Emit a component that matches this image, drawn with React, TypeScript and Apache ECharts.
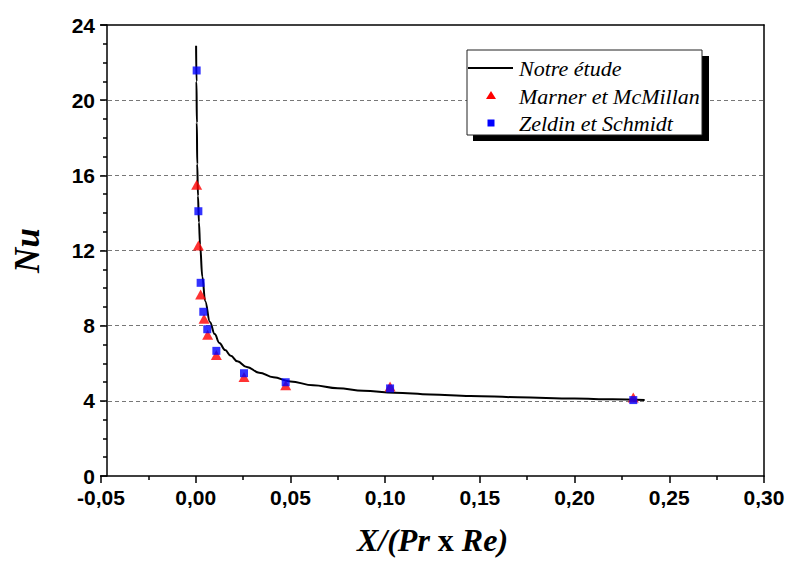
import React, { useEffect, useRef } from "react";
import * as echarts from "echarts";

// "Notre étude" curve
const curveX = [0.0002, 0.0004, 0.0006, 0.0008, 0.0012, 0.0017, 0.0023, 0.0035, 0.005, 0.0075, 0.010, 0.0125, 0.0155, 0.0185, 0.022, 0.027, 0.0335, 0.041, 0.05, 0.062, 0.075, 0.0885, 0.105, 0.124, 0.145, 0.17, 0.2, 0.22, 0.237];
const curveNu = [22.9, 21.0, 18.8, 16.6, 14.9, 13.5, 12.3, 10.6, 9.3, 8.2, 7.55, 7.08, 6.7, 6.4, 6.1, 5.8, 5.5, 5.25, 5.03, 4.83, 4.67, 4.54, 4.43, 4.34, 4.26, 4.19, 4.12, 4.08, 4.05];

// Marner et McMillan (red triangles)
const marnerX = [0.0005, 0.0014, 0.0026, 0.0044, 0.0063, 0.0109, 0.0255, 0.0475, 0.1026, 0.231];
const marnerNu = [15.5, 12.27, 9.66, 8.37, 7.52, 6.44, 5.27, 4.83, 4.76, 4.18];

// Zeldin et Schmidt (blue squares)
const zeldinX = [0.0005, 0.0014, 0.0026, 0.004, 0.0061, 0.0109, 0.0255, 0.0475, 0.1026, 0.231];
const zeldinNu = [21.58, 14.09, 10.28, 8.74, 7.81, 6.66, 5.47, 4.99, 4.66, 4.04];

const xTicks = { min: -0.05, max: 0.3, interval: 0.05 };
const yTicks = { min: 0, max: 24, interval: 4 };

const legendNames = ["Notre étude", "Marner et McMillan", "Zeldin et Schmidt"];

const zip = (xs: number[], ys: number[]) => xs.map((x, i) => [x, ys[i]]);

export default function App() {
  const ref = useRef<HTMLDivElement>(null);
  useEffect(() => {
    if (!ref.current) return;
    const chart = echarts.init(ref.current, undefined, { renderer: "svg" });
    const tickFont = { fontFamily: "'Liberation Sans', Arial, sans-serif", fontWeight: "bold" as const, fontSize: 21, color: "#000" };
    const serif = "'Liberation Serif', 'Times New Roman', serif";
    const serifLegend = "italic 22px 'Liberation Serif', 'Times New Roman', serif";
    chart.setOption({
      animation: false,
      backgroundColor: "#fff",
      grid: { left: 101, right: 26, top: 25, bottom: 84, containLabel: false },
      xAxis: [
        {
          type: "value",
          position: "bottom",
          min: xTicks.min,
          max: xTicks.max,
          interval: xTicks.interval,
          axisLine: { show: true, onZero: false, lineStyle: { color: "#000", width: 1.5 } },
          axisTick: { show: true, inside: false, length: 7, lineStyle: { color: "#000", width: 1.5 } },
          minorTick: { show: true, splitNumber: 2, length: 4, lineStyle: { color: "#000", width: 1.5 } },
          axisLabel: {
            ...tickFont,
            margin: 11,
            formatter: (v: number) => (Math.abs(v) < 1e-9 ? 0 : v).toFixed(2).replace(".", ","),
          },
          splitLine: { show: false },
          name: "{i|X/(Pr }{u|x}{i| Re)}",
          nameLocation: "middle",
          nameGap: 48,
          nameTextStyle: {
            rich: {
              i: { fontFamily: serif, fontStyle: "italic", fontWeight: "bold", fontSize: 32, color: "#000" },
              u: { fontFamily: serif, fontStyle: "normal", fontWeight: "bold", fontSize: 32, color: "#000" },
            },
          },
        },
        {
          type: "value",
          position: "top",
          min: xTicks.min,
          max: xTicks.max,
          axisLine: { show: true, onZero: false, lineStyle: { color: "#000", width: 1.5 } },
          axisTick: { show: false },
          axisLabel: { show: false },
          splitLine: { show: false },
        },
      ],
      yAxis: [
        {
          type: "value",
          position: "left",
          offset: -6,
          min: yTicks.min,
          max: yTicks.max,
          interval: yTicks.interval,
          axisLine: { show: true, onZero: false, lineStyle: { color: "#000", width: 1.5 } },
          axisTick: { show: true, inside: false, length: 7, lineStyle: { color: "#000", width: 1.5 } },
          minorTick: { show: true, splitNumber: 4, length: 4, lineStyle: { color: "#000", width: 1.5 } },
          axisLabel: { ...tickFont, margin: 12 },
          splitLine: { show: true, showMinLine: false, showMaxLine: false, lineStyle: { color: "#777", type: [4, 3], width: 1 } },
          name: "Nu",
          nameLocation: "middle",
          nameGap: 62,
          nameRotate: 90,
          nameTextStyle: { fontFamily: serif, fontStyle: "italic", fontWeight: "bold", fontSize: 35, color: "#000" },
        },
        {
          type: "value",
          position: "right",
          min: yTicks.min,
          max: yTicks.max,
          axisLine: { show: true, onZero: false, lineStyle: { color: "#000", width: 1.5 } },
          axisTick: { show: false },
          axisLabel: { show: false },
          splitLine: { show: false },
        },
      ],
      series: [
        {
          name: legendNames[0],
          type: "line",
          data: zip(curveX, curveNu),
          showSymbol: false,
          symbol: "none",
          smooth: 0.4,
          smoothMonotone: "x",
          lineStyle: { color: "#000", width: 2 },
          z: 2,
        },
        {
          name: legendNames[1],
          type: "scatter",
          data: zip(marnerX, marnerNu),
          symbol: "triangle",
          symbolSize: [11, 10],
          itemStyle: { color: "#ff0000" },
          z: 3,
        },
        {
          name: legendNames[2],
          type: "scatter",
          data: zip(zeldinX, zeldinNu),
          symbol: "rect",
          symbolSize: 8,
          itemStyle: { color: "#0000ff" },
          z: 4,
        },
      ],
      graphic: [
        { type: "rect", z: 10, shape: { x: 473, y: 56, width: 236, height: 85 }, style: { fill: "#000" } },
        { type: "rect", z: 11, shape: { x: 467, y: 50, width: 235, height: 85 }, style: { fill: "#fff", stroke: "#222", lineWidth: 1 } },
        { type: "line", z: 12, shape: { x1: 468, y1: 68, x2: 513, y2: 68 }, style: { stroke: "#000", lineWidth: 2 } },
        { type: "text", z: 12, x: 519, y: 68, style: { text: legendNames[0], font: serifLegend, fill: "#000", verticalAlign: "middle" } },
        { type: "polygon", z: 12, shape: { points: [[486, 99], [496, 99], [491, 91]] }, style: { fill: "#ff0000" } },
        { type: "text", z: 12, x: 519, y: 96, style: { text: legendNames[1], font: serifLegend, fill: "#000", verticalAlign: "middle" } },
        { type: "rect", z: 12, shape: { x: 487.5, y: 119.5, width: 7, height: 7 }, style: { fill: "#0000ff" } },
        { type: "text", z: 12, x: 519, y: 123, style: { text: legendNames[2], font: serifLegend, fill: "#000", verticalAlign: "middle" } },
      ],
    });
    return () => chart.dispose();
  }, []);
  return <div ref={ref} style={{ position: "fixed", left: 0, top: 0, width: 790, height: 561 }} />;
}
